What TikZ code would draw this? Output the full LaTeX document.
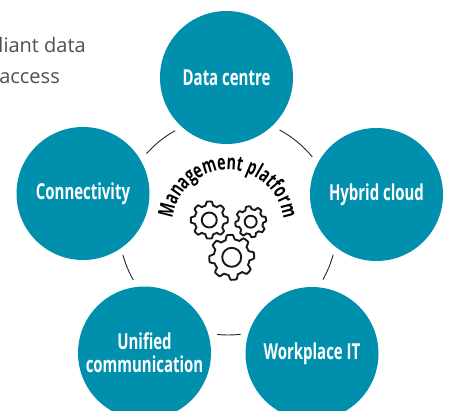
\documentclass[tikz,border=0pt]{standalone}
\usepackage{fontspec}
\usetikzlibrary{decorations.text}
\setmainfont{Open Sans}
\newfontfamily\condbold[FakeStretch=0.68]{Open Sans Bold}
\definecolor{hubteal}{HTML}{0090AD}
\definecolor{bodygrey}{HTML}{505050}
\tikzset{
  hub/.style={circle,fill=hubteal,draw=none,minimum size=133pt,inner sep=0pt,text=white,align=center,
    font=\fontsize{22}{24}\selectfont\condbold},
  ringarc/.style={draw=black!85,line width=0.9pt},
  gearline/.style={draw=black!90,line width=1.9pt,line join=round},
  bodytext/.style={text=bodygrey,anchor=base east,inner sep=0pt,font=\fontsize{20}{24}\selectfont}
}
\newcommand{\gearat}[5]{%
  \draw[gearline,shift={(#1pt,#2pt)}] plot[domain=0:360,samples=145,smooth,variable=\t]
    ({\t+#5}:{(#3*0.80+#3*0.20*min(1,max(0,0.5+1.1*cos(8*\t))))*1pt}) -- cycle;
  \draw[gearline] (#1pt,#2pt) circle[radius=#4pt];
}
\newcommand{\ringpiece}[2]{%
  \draw[ringarc] (228pt,-226pt) ++(#1:109pt) arc[start angle=#1,end angle=#2,radius=109pt];
}
\begin{document}
\begin{tikzpicture}[x=1pt,y=1pt]
\useasboundingbox (0,-410) rectangle (450,0);
\clip (0,-410) rectangle (450,0);
\fill[white] (0,-410) rectangle (450,0);
\node[bodytext] (line1) at (86,-52) {liant data};
\node[bodytext] (line2) at (60,-83) {access};
\node[hub] (dc) at (226.5,-77.5) {Data centre};
\node[hub] (hc) at (376.5,-194.5) {Hybrid cloud};
\node[hub] (wp) at (312,-353.5) {Workplace IT};
\node[hub] (uc) at (144.5,-353) {Unified\\[-1pt]communication};
\node[hub] (cn) at (83,-193.5) {Connectivity};
\ringpiece{119}{138.4}
\ringpiece{61.8}{39.4}
\ringpiece{-15.3}{-29.4}
\ringpiece{-95.7}{-83.3}
\ringpiece{195.4}{209.6}
\path[postaction={decorate,decoration={text along path,text align=center,
   text={|\fontsize{21}{24}\selectfont\condbold|Management platform}}}]
   (228pt,-226pt) ++(192:56pt) arc[start angle=192,end angle=-12,radius=56pt];
\gearat{209.3}{-220}{18.5}{7.5}{0}
\gearat{250.7}{-221.7}{15.5}{6}{10}
\gearat{231.7}{-257.3}{22.5}{9.5}{5}
\end{tikzpicture}
\end{document}
